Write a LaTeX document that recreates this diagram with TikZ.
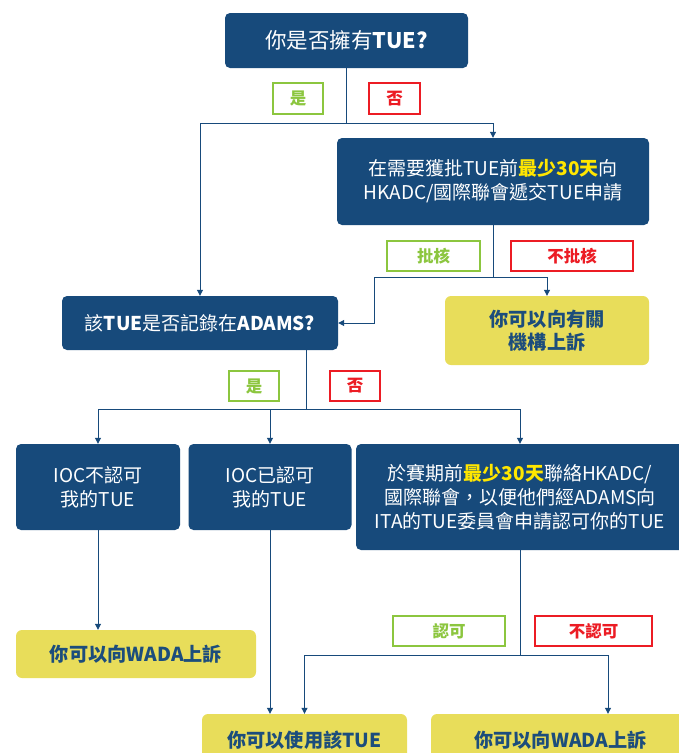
\documentclass[tikz,border=0pt]{standalone}
\usepackage{fontspec}
\setmainfont{Noto Sans CJK TC}
\usetikzlibrary{arrows.meta}
\definecolor{dblue}{HTML}{174A7B}
\definecolor{yfill}{HTML}{E8DD5A}
\definecolor{ytext}{HTML}{1C4D7C}
\definecolor{lgreen}{HTML}{8CC63F}
\definecolor{lred}{HTML}{EC1C24}
\definecolor{hl}{HTML}{FFE600}
\newcommand{\hlt}[1]{\textcolor{hl}{\bfseries #1}}
\tikzset{
  dbox/.style={fill=dblue, rounded corners=5pt, text=white, align=center, inner sep=0pt,
    font=\fontsize{19}{24}\selectfont},
  ybox/.style={fill=yfill, rounded corners=6pt, text=ytext, align=center, inner sep=0pt,
    font=\fontsize{19.2}{23.5}\selectfont\bfseries},
  yeslab/.style={draw=lgreen, line width=2pt, fill=white, text=lgreen, inner sep=0pt,
    font=\fontsize{16.5}{18}\selectfont\bfseries},
  nolab/.style={draw=lred, line width=2pt, fill=white, text=lred, inner sep=0pt,
    font=\fontsize{16.5}{18}\selectfont\bfseries},
  conn/.style={draw=dblue, line width=1pt},
  arr/.style={conn, -{Triangle[length=6pt,width=6pt]}},
}
\begin{document}
\begin{tikzpicture}[x=1pt,y=-1pt]
\useasboundingbox (0,0) rectangle (679,753);
\clip (0,0) rectangle (679,753);
% boxes
\node[dbox, minimum width=243pt, minimum height=55pt, font=\fontsize{21.5}{25}\selectfont]
  (top) at (346.5,40.5) {你是否擁有\textbf{TUE?}};
\node[dbox, minimum width=312pt, minimum height=87pt]
  (q2) at (493,181.5) {在需要獲批TUE前\hlt{最少30天}向\\HKADC/國際聯會遞交TUE申請};
\node[dbox, minimum width=276pt, minimum height=54pt]
  (adams) at (200,323) {該\textbf{TUE}是否記錄在\textbf{ADAMS?}};
\node[ybox, minimum width=204pt, minimum height=69pt]
  (appeal) at (547,330.5) {你可以向有關\\機構上訴};
\node[dbox, minimum width=164pt, minimum height=86pt]
  (A) at (98,487) {IOC不認可\\我的TUE};
\node[dbox, minimum width=163pt, minimum height=86pt]
  (B) at (270,487) {IOC已認可\\我的TUE};
\node[dbox, minimum width=328pt, minimum height=106pt]
  (C) at (520,497) {於賽期前\hlt{最少30天}聯絡HKADC/\\國際聯會，以便他們經ADAMS向\\ITA的TUE委員會申請認可你的TUE};
\node[ybox, minimum width=240pt, minimum height=48pt]
  (wada1) at (136,654) {你可以向WADA上訴};
\node[ybox, minimum width=205pt, minimum height=52pt]
  (use) at (304.5,740) {你可以使用該TUE};
\node[ybox, minimum width=259pt, minimum height=52pt]
  (wada2) at (560.5,740) {你可以向WADA上訴};
% labels
\node[yeslab, minimum width=50pt, minimum height=31pt] (y1) at (298,98.5) {是};
\node[nolab, minimum width=51pt, minimum height=31pt] (n1) at (394.5,98.5) {否};
\node[yeslab, minimum width=93pt, minimum height=30pt] (y2) at (433.5,256) {批核};
\node[nolab, minimum width=122pt, minimum height=30pt] (n2) at (572,256) {不批核};
\node[yeslab, minimum width=50pt, minimum height=30pt] (y3) at (254,386) {是};
\node[nolab, minimum width=50pt, minimum height=30pt] (n3) at (355,386) {否};
\node[yeslab, minimum width=112pt, minimum height=30pt] (y4) at (449,631) {認可};
\node[nolab, minimum width=117pt, minimum height=30pt] (n4) at (593.5,631) {不認可};
% junction coordinates
\coordinate (j1) at (346.5,123);
\coordinate (j2) at (493,277);
\coordinate (k) at (374,323);
\coordinate (j3) at (306,409);
\coordinate (j4) at (520,655);
\coordinate (j4r) at (608,655);
% connectors
\draw[conn] (top.south) -- (j1);
\draw[arr] (j1) -| (adams.north);
\draw[arr] (j1) -| (q2.north);
\draw[conn] (q2.south) -- (j2);
\draw[arr] (j2) -| (k) -- (adams.east);
\draw[arr] (j2) -| (appeal.north);
\draw[conn] (adams.south -| j3) -- (j3);
\draw[arr] (j3) -| (A.north);
\draw[arr] (j3) -| (B.north);
\draw[arr] (j3) -| (C.north);
\draw[arr] (A.south) -- (A.south |- wada1.north);
\draw[arr] (B.south) -- (B.south |- use.north);
\draw[conn] (C.south) -- (j4);
\draw[arr] (j4) -| (use.north);
\draw[conn] (j4) -- (j4r);
\draw[arr] (j4r) -- (j4r |- wada2.north);
\end{tikzpicture}
\end{document}
